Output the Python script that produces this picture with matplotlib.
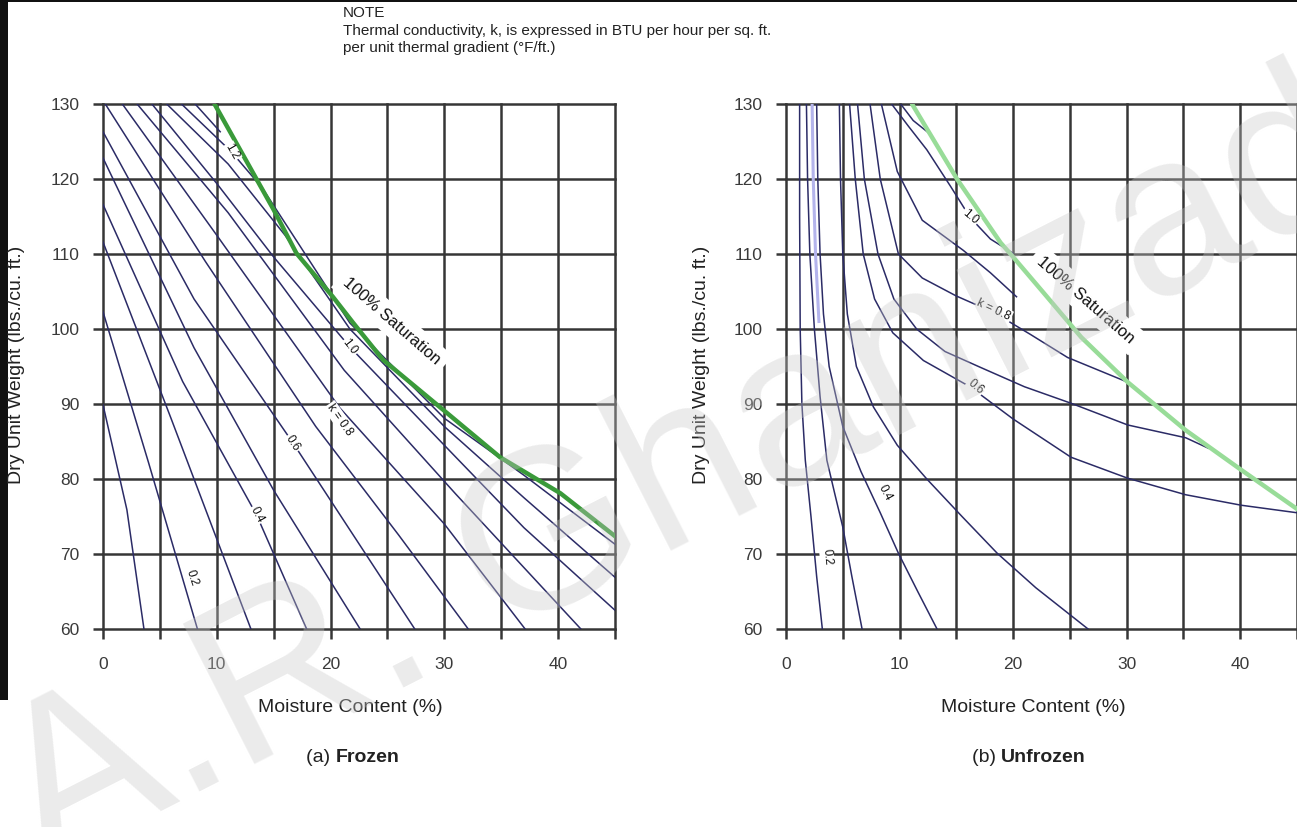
import matplotlib.pyplot as plt
import matplotlib.patches as mpatches

plt.rcParams['font.family'] = ['Liberation Sans', 'DejaVu Sans']

# ---- data ----
x_major = [0, 10, 20, 30, 40]
x_minor = [5, 15, 25, 35, 45]
y_major = [60, 70, 80, 90, 100, 110, 120, 130]

# (a) frozen: contour lines of k, each one as (x list, y list)
frozen_lines = {
    0.1: ([0, 2.1, 3.6], [89.9, 75.9, 60]),
    0.2: ([0, 4, 8.3], [102.3, 82.2, 60]),
    0.3: ([0, 6, 13.0], [111.6, 88, 60]),
    0.4: ([0, 7, 13.5, 17.9], [116.6, 93, 75.2, 60]),
    0.5: ([0, 8, 15, 22.6], [122.8, 97.5, 78.5, 60]),
    0.6: ([0, 8, 16.7, 27.4], [126.3, 104, 84.8, 60]),
    0.7: ([0.2, 9, 18.7, 26, 32.1], [130, 109, 87, 72.5, 60]),
    0.8: ([1.7, 10, 20.8, 30, 37.1], [130, 112.5, 89.5, 74, 60]),
    0.9: ([3.0, 11, 21.2, 31, 42], [130, 115.5, 94.5, 78, 60]),
    1.0: ([4.3, 10, 15, 21.7, 30, 37, 45], [130, 119.4, 109.6, 97.6, 84.5, 73.5, 62.5]),
    1.1: ([5.6, 11, 16, 21.7, 30, 37, 45], [130, 122, 112.5, 100, 87, 77.5, 66.9]),
    1.2: ([6.9, 11.3, 14, 17, 21.7, 30, 37, 45], [130, 123.6, 118.8, 111.8, 100.8, 88.1, 80.5, 71.3]),
    1.3: ([8.1, 10.3], [130, 126.3]),
}
frozen_sat_x = [9.8, 15, 17, 20.2, 22, 24.6, 29.6, 34.9, 40.2, 45.4]
frozen_sat_y = [130, 115.9, 110.1, 104.3, 100.8, 95.9, 89.6, 82.9, 78.1, 71.9]
frozen_labels = [('0.2', 7.8, 66.8, -72), ('0.4', 13.5, 75.2, -62), ('0.6', 16.7, 84.8, -57),
                 ('k = 0.8', 20.8, 87.9, -55), ('1.0', 21.7, 97.6, -52), ('1.2', 11.3, 123.6, -60)]

# (b) unfrozen
unfrozen_lines = {
    0.2: ([1.2, 1.2, 1.25, 1.4, 1.7, 2.2, 2.7, 3.2], [130, 115, 100, 90, 82.5, 75, 67, 60]),
    0.3: ([1.8, 1.9, 2.1, 2.5, 3.0, 3.6, 4.3, 5.0, 5.8, 6.7],
          [130, 120, 110, 100, 91, 82.5, 78, 73.6, 67, 60]),
    0.4: ([2.7, 2.8, 3.0, 3.3, 3.8, 5.0, 6.6, 8.3, 9.9, 11.6, 13.3],
          [130, 120, 110, 102, 95, 87, 81, 75.5, 70.1, 65, 60]),
    0.5: ([4.7, 4.8, 5.0, 5.4, 6.2, 7.7, 9.8, 12.4, 15.5, 18.6, 22, 26.6],
          [130, 120, 110, 102, 95, 89.6, 84.5, 80, 75, 70.1, 65.5, 60]),
    0.6: ([5.6, 6.1, 6.8, 7.8, 9.4, 12.1, 16.2, 20, 25.1, 30.1, 35.2, 40.1, 45],
          [130, 120, 110, 104, 99.5, 95.8, 92.3, 88, 82.9, 80.1, 77.9, 76.5, 75.5]),
    0.7: ([6.3, 6.9, 8.1, 9.5, 11.5, 14, 17.1, 21, 25.1, 30.1, 35.2, 37.2],
          [130, 120, 110, 104, 100, 97, 94.9, 92.3, 90.1, 87.2, 85.5, 84.1]),
    0.8: ([7.4, 8.3, 9.9, 12, 15, 18.3, 21.5, 24.8, 30.1],
          [130, 120, 110, 106.8, 104.4, 102.2, 99.3, 96.2, 92.9]),
    0.9: ([8.4, 9.8, 12, 15.6, 18, 20.3], [130, 121, 114.5, 110.5, 107.5, 104.3]),
    1.0: ([9.3, 10.8, 12.4, 14.5, 16.2, 18, 20], [130, 127, 123.9, 119, 114.9, 112, 110.1]),
    1.1: ([10.1, 11.2, 12.6], [130, 127.8, 126.1]),
}
# faint double trace next to the 0.3 line at the top
unfrozen_faint_x = [2.3, 2.4, 2.6, 2.9]
unfrozen_faint_y = [130, 120, 110, 101]
unfrozen_sat_x = [11.1, 15.1, 18.9, 20, 22.7, 26, 30.1, 35.2, 40.1, 45.1]
unfrozen_sat_y = [130, 119.9, 111.5, 109.6, 104.8, 98.9, 92.9, 86.5, 81.2, 75.9]
unfrozen_labels = [('0.2', 3.6, 69.6, -85), ('0.4', 8.7, 78.1, -62), ('0.6', 16.7, 92.3, -40),
                   ('k = 0.8', 18.3, 102.5, -25), ('1.0', 16.2, 114.9, -40)]

W, H = 1297, 827
fig = plt.figure(figsize=(W / 100, H / 100), dpi=100)

grid_c = '#363636'
line_c = '#2b2b66'
text_c = '#222222'


def setup(ax):
    ax.set_xlim(0, 45)
    ax.set_ylim(60, 130)
    for s in ax.spines.values():
        s.set_visible(False)
    ax.set_xticks(x_major)
    ax.set_xticks(x_minor, minor=True)
    ax.set_yticks(y_major)
    ax.tick_params(which='both', length=7, width=1.8, color=grid_c,
                   labelsize=12.5, labelcolor='#3a3a3a')
    ax.tick_params(axis='x', which='both', pad=13)
    ax.tick_params(axis='y', pad=10)
    # grid drawn by hand so the border lines are not clipped
    for v in x_major + x_minor:
        ax.axvline(v, color=grid_c, lw=1.8, zorder=1, clip_on=False)
    for v in y_major:
        ax.axhline(v, color=grid_c, lw=1.8, zorder=1, clip_on=False)


def draw(ax, lines, sat_x, sat_y, sat_c, labels, sat_txt_xy):
    for k, (xs, ys) in lines.items():
        ax.plot(xs, ys, color=line_c, lw=1.1, zorder=3)
    ax.plot(sat_x, sat_y, color=sat_c, lw=3.2, zorder=4, solid_capstyle='round')
    for t, x, y, r in labels:
        ax.text(x, y, t, fontsize=8.5, rotation=r, ha='center', va='center',
                color='#111111', zorder=6,
                bbox=dict(boxstyle='square,pad=0.1', fc='white', ec='none'))
    # white box of the saturation label only hides the grid
    ax.text(*sat_txt_xy, '100% Saturation', fontsize=12, rotation=-41,
            ha='center', va='center', color='white', zorder=2,
            bbox=dict(boxstyle='square,pad=0.4', fc='white', ec='none'))
    ax.text(*sat_txt_xy, '100% Saturation', fontsize=12, rotation=-41,
            ha='center', va='center', color='#111111', zorder=6)


ax1 = fig.add_axes([103 / W, 1 - 629 / H, 512 / W, 525 / H])
setup(ax1)
draw(ax1, frozen_lines, frozen_sat_x, frozen_sat_y, '#3a9a3a', frozen_labels, (25.4, 101.0))

ax2 = fig.add_axes([786 / W, 1 - 629 / H, 511 / W, 525 / H])
setup(ax2)
ax2.plot(unfrozen_faint_x, unfrozen_faint_y, color='#b4b4ec', lw=2.2, zorder=2.5)
draw(ax2, unfrozen_lines, unfrozen_sat_x, unfrozen_sat_y, '#98dc98', unfrozen_labels, (26.4, 103.9))

for xc in (17, 702):
    fig.text(xc / W, 1 - 365 / H, 'Dry Unit Weight (lbs./cu. ft.)', rotation=90,
             ha='center', va='center', fontsize=14, color=text_c)
for xc in (350, 1033):
    fig.text(xc / W, 1 - 707 / H, 'Moisture Content (%)', ha='center', va='center',
             fontsize=14, color=text_c)

fig.text(336 / W, 1 - 757 / H, '(a) ', ha='right', va='center', fontsize=14, color=text_c)
fig.text(336 / W, 1 - 757 / H, 'Frozen', ha='left', va='center', fontsize=14,
         fontweight='bold', color=text_c)
fig.text(1001 / W, 1 - 757 / H, '(b) ', ha='right', va='center', fontsize=14, color=text_c)
fig.text(1001 / W, 1 - 757 / H, 'Unfrozen', ha='left', va='center', fontsize=14,
         fontweight='bold', color=text_c)

fig.text(343 / W, 1 - 13 / H, 'NOTE', ha='left', va='center', fontsize=11, color=text_c)
fig.text(343 / W, 1 - 31 / H, 'Thermal conductivity, k, is expressed in BTU per hour per sq. ft.',
         ha='left', va='center', fontsize=11, color=text_c)
fig.text(343 / W, 1 - 48 / H, 'per unit thermal gradient (\u00b0F/ft.)',
         ha='left', va='center', fontsize=11, color=text_c)

# dark strip on the left edge and the top border
fig.patches.append(mpatches.Rectangle((0, 1 - 700 / H), 8 / W, 700 / H, transform=fig.transFigure,
                                      fc='#111111', ec='none', zorder=0))
fig.patches.append(mpatches.Rectangle((0, 1 - 2 / H), 1, 2 / H, transform=fig.transFigure,
                                      fc='#111111', ec='none', zorder=0))

# watermark
fig.text(-30 / W, 1 - 865 / H, 'A.R. Ghanizadeh', rotation=27, ha='left', va='baseline',
         fontsize=165, color='#c8c8c8', alpha=0.36, zorder=20)

fig.savefig('out.png', dpi=100)
